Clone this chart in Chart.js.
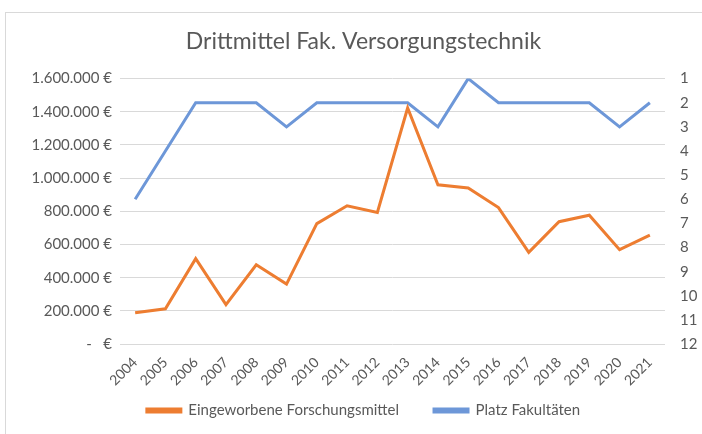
<!DOCTYPE html>
<html>
<head>
<meta charset="utf-8">
<script src="https://cdn.jsdelivr.net/npm/chart.js@4"></script>
<style>
    html, body { margin: 0; padding: 0; background: #fff; overflow: hidden; }
    #frame { position: absolute; left: 5px; top: 12px; width: 720px; height: 440px; border: 1px solid #d9d9d9; }
    #wrap { position: absolute; left: 0; top: 0; width: 702px; height: 434px; }
</style>
</head>
<body>
<div id="frame"></div>
<div id="wrap"><canvas id="chart" width="702" height="434"></canvas></div>
<script>
// --- Daten
const years = ['2004', '2005', '2006', '2007', '2008', '2009', '2010', '2011', '2012',
    '2013', '2014', '2015', '2016', '2017', '2018', '2019', '2020', '2021'];
const forschungsmittel = [189000, 213000, 515000, 238000, 478000, 362000, 726000, 834000, 793000,
    1423000, 960000, 941000, 823000, 553000, 738000, 777000, 569000, 657000];
const platz = [6, 4, 2, 2, 2, 3, 2, 2, 2, 2, 3, 1, 2, 2, 2, 2, 3, 2];
const euroTicks = [0, 200000, 400000, 600000, 800000, 1000000, 1200000, 1400000, 1600000];
const rankTicks = [1, 2, 3, 4, 5, 6, 7, 8, 9, 10, 11, 12];

const grey = '#595959';
const fontFamily = 'Lato, "Open Sans", sans-serif';

function euro(v) {
    if (v === 0) return '-   €';
    return v.toString().replace(/\B(?=(\d{3})+(?!\d))/g, '.') + ' €';
}

new Chart(document.getElementById('chart'), {
    type: 'line',
    data: {
        labels: years,
        datasets: [{
            label: 'Eingeworbene Forschungsmittel',
            data: forschungsmittel,
            borderColor: '#ED7D31',
            backgroundColor: '#ED7D31',
            borderWidth: 3,
            pointRadius: 0,
            tension: 0,
            yAxisID: 'y'
        }, {
            label: 'Platz Fakultäten',
            data: platz,
            borderColor: '#6d97d8',
            backgroundColor: '#6d97d8',
            borderWidth: 3,
            pointRadius: 0,
            tension: 0,
            yAxisID: 'y2'
        }]
    },
    options: {
        responsive: false,
        animation: false,
        layout: { padding: { left: 30, right: 5, top: 14, bottom: 6 } },
        plugins: {
            title: {
                display: true,
                text: 'Drittmittel Fak. Versorgungstechnik',
                color: grey,
                font: { family: fontFamily, size: 23, weight: 'normal' },
                padding: { top: 14, bottom: 23 }
            },
            legend: {
                position: 'bottom',
                labels: {
                    color: grey,
                    font: { family: fontFamily, size: 15 },
                    boxWidth: 34,
                    boxHeight: 3,
                    padding: 12,
                    generateLabels: chart => {
                        const items = Chart.defaults.plugins.legend.labels.generateLabels(chart);
                        items[0].text = items[0].text + '      ';
                        return items;
                    }
                }
            },
            tooltip: { enabled: false }
        },
        scales: {
            x: {
                offset: true,
                grid: { display: false },
                border: { display: false },
                ticks: {
                    color: grey,
                    font: { family: fontFamily, size: 14 },
                    maxRotation: 45,
                    minRotation: 45,
                    autoSkip: false,
                    padding: 2
                }
            },
            y: {
                position: 'left',
                min: 0,
                max: 1600000,
                afterBuildTicks: axis => { axis.ticks = euroTicks.map(v => ({ value: v })); },
                afterFit: axis => { axis.width = 90; },
                grid: { color: '#d9d9d9', lineWidth: 1, drawTicks: false },
                border: { display: false },
                ticks: {
                    color: grey,
                    font: { family: fontFamily, size: 15 },
                    padding: 8,
                    callback: v => euro(v)
                }
            },
            y2: {
                position: 'right',
                reverse: true,
                min: 1,
                max: 12,
                afterBuildTicks: axis => { axis.ticks = rankTicks.map(v => ({ value: v })); },
                afterFit: axis => { axis.width = 32; },
                grid: { display: false, drawTicks: false },
                border: { display: false },
                ticks: {
                    color: grey,
                    font: { family: fontFamily, size: 15 },
                    padding: 15
                }
            }
        }
    }
});
</script>
</body>
</html>
